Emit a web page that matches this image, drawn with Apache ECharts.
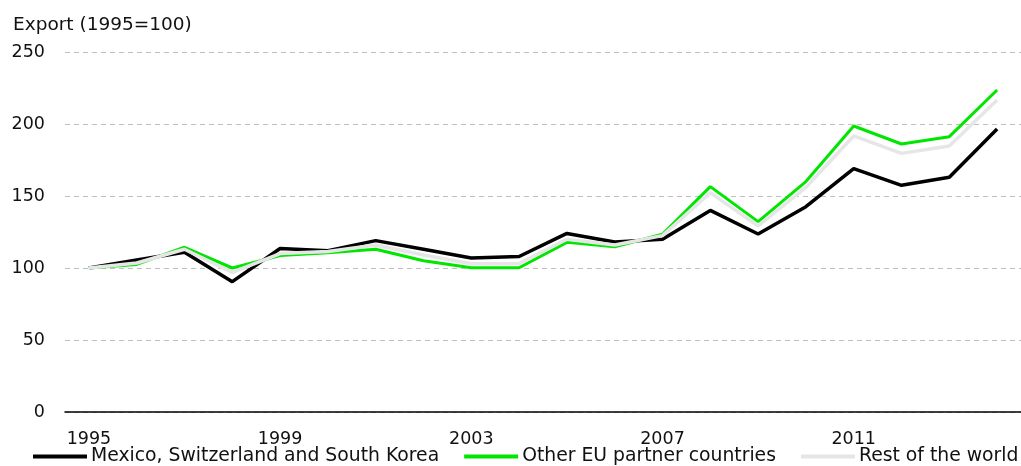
<!DOCTYPE html>
<html><head><meta charset="utf-8">
<script src="https://cdn.jsdelivr.net/npm/echarts@6/dist/echarts.min.js"></script>
<style>html,body{margin:0;padding:0;background:#fff}#c{width:1021px;height:466px}</style>
</head><body><div id="c"></div>
<script>
const years = ['1995','1996','1997','1998','1999','2000','2001','2002','2003','2004','2005','2006','2007','2008','2009','2010','2011','2012','2013','2014'];
const mexico = [100,105.6,111,90.5,113.5,112,119,113,107,108,124,118,120,140,123.6,142.6,169,157.4,163,196.5];
const otherEU = [100,102.5,114.4,100,108.6,110.6,113,105,100.2,100.2,117.8,114.8,123.4,156.5,132.2,160,198.6,186.1,191.2,223.6];
const restWorld = [100,103.5,113,97,110,111.5,116,109,103,103,120,116,122.5,152.3,129.2,156,191.7,179.6,184.7,216.7];
const yTicks = [0,50,100,150,200,250];
const names = ['Mexico, Switzerland and South Korea','Other EU partner countries','Rest of the world'];
const colors = ['#000000','#00e600','#e6e6e6'];

const chart = echarts.init(document.getElementById('c'));
const font = 'DejaVu Sans, Verdana, sans-serif';
chart.setOption({
  animation:false,
  textStyle:{fontFamily:font},
  graphic:[{type:'text',left:13,top:16,style:{text:'Export (1995=100)',font:'18.5px '+font,fill:'#111'}}],
  grid:{left:65,right:0,top:52,bottom:54,containLabel:false},
  legend:{
    top:447,left:33,width:1000,padding:0,itemWidth:54,itemHeight:4,itemGap:25,icon:'rect',
    textStyle:{fontSize:18.8,color:'#111',fontFamily:font,padding:[0,0,0,-1]},
    data:names
  },
  xAxis:{type:'category',data:years,boundaryGap:true,
    axisLine:{lineStyle:{color:'#000',width:1.5}},axisTick:{show:false},
    axisLabel:{interval:3,fontSize:17.5,color:'#111',margin:18,fontFamily:font}},
  yAxis:{type:'value',min:yTicks[0],max:yTicks[yTicks.length-1],interval:50,
    axisLine:{show:false},axisTick:{show:false},
    axisLabel:{fontSize:17.5,color:'#111',margin:20,fontFamily:font},
    splitLine:{lineStyle:{color:'#c0c0c0',type:[5,4],width:1}}},
  series:[
    {name:names[0],type:'line',data:mexico,symbol:'none',lineStyle:{color:colors[0],width:3.5},itemStyle:{color:colors[0]},z:2},
    {name:names[1],type:'line',data:otherEU,symbol:'none',lineStyle:{color:colors[1],width:3},itemStyle:{color:colors[1]},z:3},
    {name:names[2],type:'line',data:restWorld,symbol:'none',lineStyle:{color:colors[2],width:3.5},itemStyle:{color:colors[2]},z:4}
  ]
});
</script></body></html>
